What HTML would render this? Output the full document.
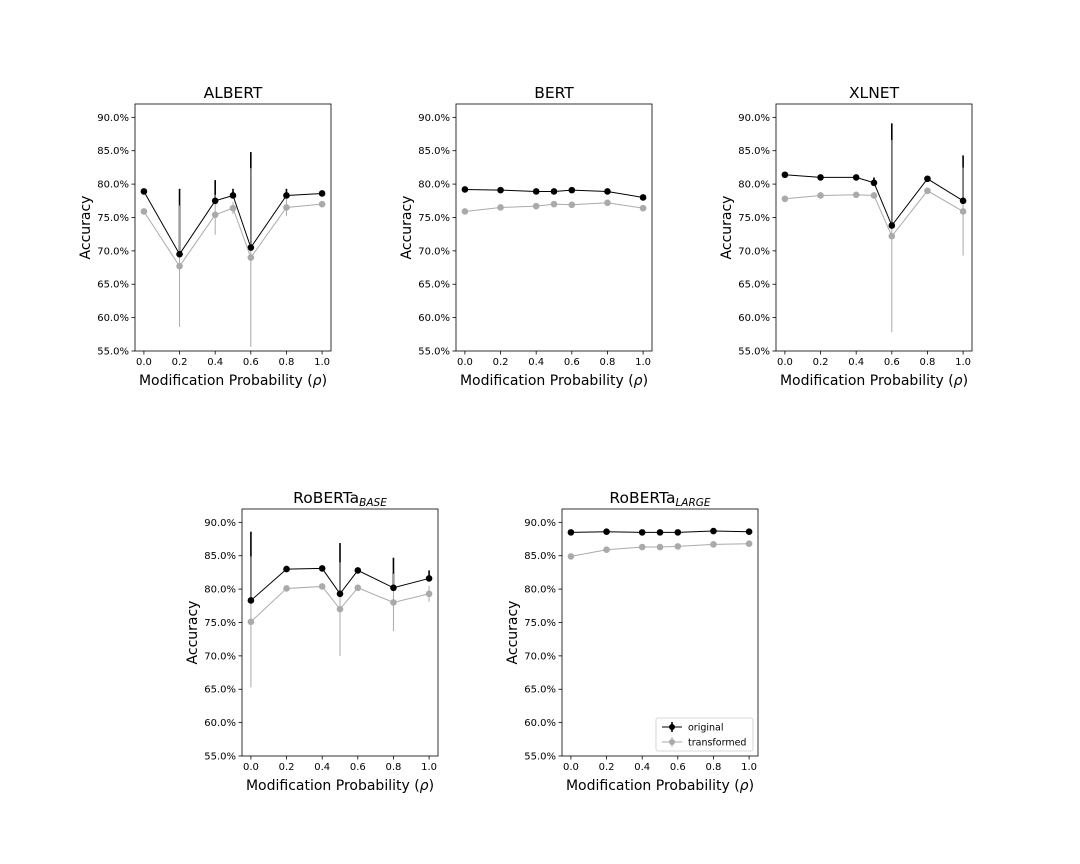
<!DOCTYPE html>
<html><head><meta charset="utf-8"><style>
body{margin:0;background:#fff;}
svg{display:block;font-family:"DejaVu Sans","Liberation Sans",sans-serif;}
</style></head><body>
<svg id="fig" width="1080" height="864" viewBox="0 0 1080 864"></svg>
<script>
const xs = [0.0, 0.2, 0.4, 0.5, 0.6, 0.8, 1.0];
const xTicks = [0.0, 0.2, 0.4, 0.6, 0.8, 1.0];
const yTicks = [55, 60, 65, 70, 75, 80, 85, 90];
const panelNames = ["ALBERT", "BERT", "XLNET", "RoBERTa-base", "RoBERTa-large"];
const albertOrig = [78.9, 69.5, 77.5, 78.3, 70.5, 78.3, 78.6];
const albertOrigErr = [0.2, 9.8, 3.1, 1.0, 14.3, 1.0, 0.3];
const albertTrans = [75.9, 67.7, 75.4, 76.4, 69.0, 76.5, 77.0];
const albertTransErr = [0.2, 9.1, 3.0, 0.9, 13.4, 1.3, 0.2];
const bertOrig = [79.2, 79.1, 78.9, 78.9, 79.1, 78.9, 78.0];
const bertOrigErr = [0.2, 0.2, 0.2, 0.2, 0.2, 0.2, 0.2];
const bertTrans = [75.9, 76.5, 76.7, 77.0, 76.9, 77.2, 76.4];
const bertTransErr = [0.2, 0.2, 0.2, 0.2, 0.2, 0.2, 0.2];
const xlnetOrig = [81.4, 81.0, 81.0, 80.2, 73.8, 80.8, 77.5];
const xlnetOrigErr = [0.2, 0.2, 0.2, 0.8, 15.3, 0.3, 6.8];
const xlnetTrans = [77.8, 78.3, 78.4, 78.3, 72.2, 79.0, 75.9];
const xlnetTransErr = [0.2, 0.2, 0.2, 0.5, 14.4, 0.2, 6.6];
const rbOrig = [78.3, 83.0, 83.1, 79.3, 82.8, 80.2, 81.6];
const rbOrigErr = [10.3, 0.5, 0.2, 7.6, 0.2, 4.5, 1.2];
const rbTrans = [75.1, 80.1, 80.4, 77.0, 80.2, 78.0, 79.3];
const rbTransErr = [9.8, 0.3, 0.2, 7.0, 0.2, 4.3, 1.2];
const rlOrig = [88.5, 88.6, 88.5, 88.5, 88.5, 88.7, 88.6];
const rlOrigErr = [0.2, 0.2, 0.2, 0.2, 0.2, 0.2, 0.2];
const rlTrans = [84.9, 85.9, 86.3, 86.3, 86.4, 86.7, 86.8];
const rlTransErr = [0.2, 0.2, 0.2, 0.2, 0.2, 0.2, 0.2];

const NS = "http://www.w3.org/2000/svg";
const fig = document.getElementById("fig");
function mk(tag, attrs, parent, text){
  const e = document.createElementNS(NS, tag);
  for (const k in attrs) e.setAttribute(k, attrs[k]);
  if (text !== undefined) e.textContent = text;
  (parent||fig).appendChild(e);
  return e;
}
const W = 196, H = 247, XMIN = -0.05, XMAX = 1.05, YMIN = 55, YMAX = 92;

function panel(idx, left, top, title, sub, orig, origErr, trans, transErr, legend){
  const g = mk("g", {});
  
  
  const sx = v => left + (v - XMIN) / (XMAX - XMIN) * W;
  const sy = v => top + H - (v - YMIN) / (YMAX - YMIN) * H;
  const t = mk("text", {x: left + W/2, y: top - 6, "text-anchor": "middle", "font-size": 15.5, fill: "#000"}, g, title);
  if (sub){ mk("tspan", {"font-size": 10.5, "font-style": "italic", dy: 3}, t, sub); }
  
  
  xTicks.forEach(v => {
    const x = sx(v);
    mk("line", {x1: x, x2: x, y1: top+H, y2: top+H+3.5, stroke: "#000", "stroke-width": 0.8}, g);
    const l = mk("text", {x: x, y: top+H+14, "text-anchor": "middle", "font-size": 10}, g, v.toFixed(1));
    
    
  });
  yTicks.forEach(v => {
    const y = sy(v);
    mk("line", {x1: left-3.5, x2: left, y1: y, y2: y, stroke: "#000", "stroke-width": 0.8}, g);
    const l = mk("text", {x: left-6, y: y+3.5, "text-anchor": "end", "font-size": 10}, g, v.toFixed(1) + "%");
    
    
  });
  const xl = mk("text", {x: left + W/2, y: top+H+34, "text-anchor": "middle", "font-size": 14}, g);
  xl.appendChild(document.createTextNode("Modification Probability ("));
  mk("tspan", {"font-style": "italic"}, xl, "ρ");
  xl.appendChild(document.createTextNode(")"));
  
  
  const yl = mk("text", {x: 0, y: 0, "text-anchor": "middle", "font-size": 14, transform: `translate(${left-45},${top+H/2}) rotate(-90)`}, g, "Accuracy");
  
  
  const series = [
    {vals: orig, err: origErr, color: "#000", bw: 1.6, name: "original", upOnly: true},
    {vals: trans, err: transErr, color: "#aaa", bw: 1.0, name: "transformed", upOnly: false}
  ];
  series.forEach(s => {
    s.vals.forEach((v, i) => {
      const lo = s.upOnly ? v : v - s.err[i];
      const e = mk("line", {x1: sx(xs[i]), x2: sx(xs[i]), y1: sy(lo), y2: sy(v + s.err[i]), stroke: s.color, "stroke-width": s.bw}, g);
      
      
    });
  });
  series.forEach(s => {
    const pts = s.vals.map((v, i) => sx(xs[i]).toFixed(2) + "," + sy(v).toFixed(2)).join(" ");
    const pl = mk("polyline", {points: pts, fill: "none", stroke: s.color, "stroke-width": 1}, g);
    
    
    s.vals.forEach((v, i) => {
      const c = mk("circle", {cx: sx(xs[i]), cy: sy(v), r: 3.3, fill: s.color}, g);
      
      
    });
  });
  mk("rect", {x: left, y: top, width: W, height: H, fill: "none", stroke: "#000", "stroke-width": 0.8}, g);
  if (legend){
    const lg = mk("g", {}, g);
    
    
    const lx = left + W - 102, ly = top + H - 38;
    mk("rect", {x: lx, y: ly, width: 97, height: 33, rx: 2, fill: "#fff", stroke: "#ccc", "stroke-width": 0.8}, lg);
    series.forEach((s, k) => {
      const yy = ly + 9 + k*15;
      mk("line", {x1: lx+6, x2: lx+26, y1: yy, y2: yy, stroke: s.color, "stroke-width": 1}, lg);
      mk("line", {x1: lx+16, x2: lx+16, y1: yy-5, y2: yy+5, stroke: s.color, "stroke-width": s.bw}, lg);
      mk("circle", {cx: lx+16, cy: yy, r: 3, fill: s.color}, lg);
      const tx = mk("text", {x: lx+32, y: yy+3.5, "font-size": 9.5}, lg, s.name);
      
      
    });
  }
}
panel(0, 135, 104, "ALBERT", null, albertOrig, albertOrigErr, albertTrans, albertTransErr, false);
panel(1, 456, 104, "BERT", null, bertOrig, bertOrigErr, bertTrans, bertTransErr, false);
panel(2, 776, 104, "XLNET", null, xlnetOrig, xlnetOrigErr, xlnetTrans, xlnetTransErr, false);
panel(3, 242, 509, "RoBERTa", "BASE", rbOrig, rbOrigErr, rbTrans, rbTransErr, false);
panel(4, 562, 509, "RoBERTa", "LARGE", rlOrig, rlOrigErr, rlTrans, rlTransErr, true);
</script>
</body></html>
